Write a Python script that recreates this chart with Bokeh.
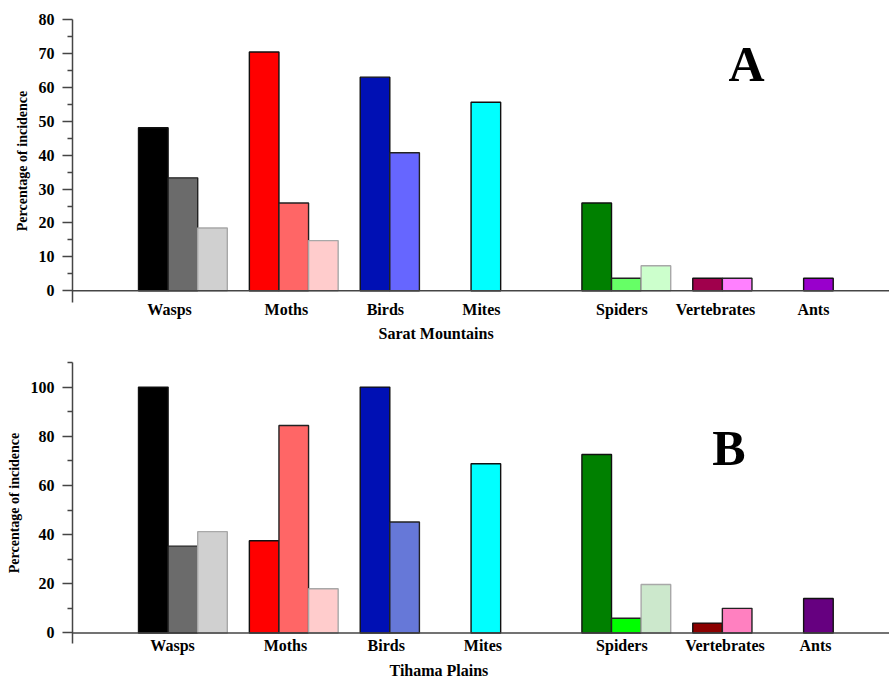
from bokeh.plotting import figure
from bokeh.models import (ColumnDataSource, Range1d, FixedTicker, Span, Label,
                          Title, CustomJSTickFormatter)
from bokeh.layouts import column
from bokeh.embed import file_html
from bokeh.resources import INLINE

# ---------------- data ----------------
categories = ["Wasps", "Moths", "Birds", "Mites", "Spiders", "Vertebrates", "Ants"]

sarat_1 = [48.1, 70.4, 63.0, 55.6, 25.9, 3.7, 3.7]
sarat_2 = [33.3, 25.9, 40.7, None, 3.7, 3.7, None]
sarat_3 = [18.5, 14.8, None, None, 7.4, None, None]

tihama_1 = [100.0, 37.5, 100.0, 68.8, 72.6, 4.0, 14.0]
tihama_2 = [35.3, 84.4, 45.1, None, 6.0, 10.0, None]
tihama_3 = [41.2, 18.0, None, None, 19.7, None, None]

sarat_ticks = [0, 10, 20, 30, 40, 50, 60, 70, 80]
sarat_minor = [5, 15, 25, 35, 45, 55, 65, 75]
tihama_ticks = [0, 20, 40, 60, 80, 100]
tihama_minor = [10, 30, 50, 70, 90, 110]

# ---------------- styles ----------------
sarat_fill_1 = ["#000000", "#ff0000", "#0010b4", "#00ffff", "#008000", "#a0004c", "#9900cc"]
sarat_fill_2 = ["#6b6b6b", "#ff6666", "#6666ff", None, "#66ff66", "#ff80ff", None]
sarat_fill_3 = ["#d0d0d0", "#ffcccc", None, None, "#ccffcc", None, None]
tihama_fill_1 = ["#000000", "#ff0000", "#0010b4", "#00ffff", "#008000", "#8b0000", "#660080"]
tihama_fill_2 = ["#6b6b6b", "#ff6666", "#6678d8", None, "#00ff00", "#ff80c0", None]
tihama_fill_3 = ["#d0d0d0", "#ffcccc", None, None, "#cce8cc", None, None]
series_line = ["#111111", "#222222", "#a8a8a8"]

# small horizontal nudges of the category labels (in bar widths)
sarat_label_nudge = [-0.45, -0.25, -0.15, -0.15, -0.15, -0.23, -0.17]
tihama_label_nudge = [-0.35, -0.28, -0.12, -0.10, -0.15, 0.09, -0.10]

FONT = "Liberation Serif"
GAP = 3.745          # group spacing in bar widths
W = 889
LEFT = 72
PX_PER_UNIT = 29.6
X0 = -2.23
X1 = X0 + (W - LEFT) / PX_PER_UNIT
AXIS_COL = "#454545"


def make_panel(series, fills, nudge, ticks, minor, ymin, ymax, height, top_border,
               bottom_border, title, letter, letter_xy, title_offset,
               label_standoff, title_standoff):
    xs, tops, cols, lcols = [], [], [], []
    label_x = []
    for i, cat in enumerate(categories):
        n = 0
        for j, (vals, fl) in enumerate(zip(series, fills)):
            v = vals[i]
            if v is None:
                continue
            n += 1
            xs.append(i * GAP + j + 0.5)
            tops.append(v)
            cols.append(fl[i])
            lcols.append(series_line[j])
        label_x.append(i * GAP + n / 2 + nudge[i])

    src = ColumnDataSource(dict(x=xs, top=tops, color=cols, lcolor=lcols))
    p = figure(width=W, height=height, output_backend="svg", toolbar_location=None,
               x_range=Range1d(X0, X1), y_range=Range1d(ymin, ymax),
               min_border_left=LEFT, min_border_right=0,
               min_border_top=top_border, min_border_bottom=bottom_border)
    p.outline_line_color = None
    p.grid.visible = False
    p.background_fill_color = "white"
    p.border_fill_color = "white"

    p.vbar(x="x", top="top", bottom=0, width=1.0, fill_color="color",
           line_color="lcolor", line_width=1.4, source=src)
    p.add_layout(Span(location=0, dimension="width", line_color=AXIS_COL, line_width=1.5))

    ya = p.yaxis[0]
    ya.ticker = FixedTicker(ticks=ticks, minor_ticks=minor)
    ya.axis_line_color = AXIS_COL
    ya.axis_line_width = 1.5
    ya.major_tick_line_color = AXIS_COL
    ya.major_tick_line_width = 1.5
    ya.minor_tick_line_color = AXIS_COL
    ya.minor_tick_line_width = 1.5
    ya.major_tick_out = 10
    ya.major_tick_in = 0
    ya.minor_tick_out = 5
    ya.minor_tick_in = 0
    ya.major_label_standoff = 8
    ya.major_label_text_font = FONT
    ya.major_label_text_font_style = "bold"
    ya.major_label_text_font_size = "16px"
    ya.major_label_text_color = "black"
    ya.axis_label = "Percentage of incidence"
    ya.axis_label_text_font = FONT
    ya.axis_label_text_font_style = "bold"
    ya.axis_label_text_font_size = "14px"
    ya.axis_label_text_color = "black"
    ya.axis_label_standoff = 6

    xa = p.xaxis[0]
    xa.ticker = FixedTicker(ticks=label_x, minor_ticks=[])
    xa.formatter = CustomJSTickFormatter(args=dict(names=categories),
                                         code="return names[index];")
    xa.axis_line_color = None
    xa.major_tick_line_color = None
    xa.minor_tick_line_color = None
    xa.major_tick_out = 0
    xa.major_label_standoff = label_standoff
    xa.major_label_text_font = FONT
    xa.major_label_text_font_style = "bold"
    xa.major_label_text_font_size = "16px"
    xa.major_label_text_color = "black"

    p.add_layout(Title(text=title, align="left", offset=title_offset,
                       standoff=title_standoff,
                       text_font=FONT, text_font_style="bold",
                       text_font_size="16px", text_color="black"), "below")

    p.add_layout(Label(x=letter_xy[0], y=letter_xy[1], text=letter,
                       text_align="center", text_baseline="middle",
                       text_font=FONT, text_font_style="bold",
                       text_font_size="50px", text_color="black"))
    return p


p1 = make_panel([sarat_1, sarat_2, sarat_3],
                [sarat_fill_1, sarat_fill_2, sarat_fill_3], sarat_label_nudge,
                sarat_ticks, sarat_minor, -3.45, 80.0, 345, 19, 43,
                "Sarat Mountains", "A", (20.54, 66.9), 306, -2, 5)
p2 = make_panel([tihama_1, tihama_2, tihama_3],
                [tihama_fill_1, tihama_fill_2, tihama_fill_3], tihama_label_nudge,
                tihama_ticks, tihama_minor, -4.3, 110.0, 337, 17, 39,
                "Tihama Plains", "B", (19.95, 75.3), 317, -7, 7)

layout = column(p1, p2, spacing=0)
open("out.html", "w").write(file_html(layout, INLINE))
